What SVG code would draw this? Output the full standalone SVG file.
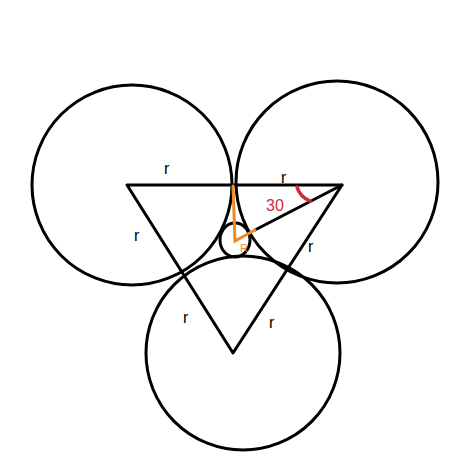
<svg xmlns="http://www.w3.org/2000/svg" width="474" height="466" viewBox="0 0 474 466">
<style>
.c{fill:none;stroke:#000;stroke-width:3}
.l{fill:none;stroke:#000;stroke-width:3;stroke-linecap:round;stroke-linejoin:round}
.o{fill:none;stroke:#f08a24;stroke-width:3;stroke-linecap:round}
.t{font-family:"Liberation Sans",Arial,sans-serif;font-size:16px;fill:#000}
</style>
<rect width="474" height="466" fill="#fff"/>
<g id="circle-left"><circle class="c" cx="132" cy="185" r="100"/></g>
<g id="circle-right"><circle class="c" cx="337" cy="182" r="101"/></g>
<g id="circle-bottom"><circle class="c" cx="243" cy="353" r="97"/></g>
<g id="circle-small"><ellipse class="c" cx="235" cy="240" rx="15" ry="17"/></g>
<g id="connectors">
<polyline class="l" points="127,185 342,185 233,353 127,185"/>
<line class="l" x1="255" y1="230" x2="342" y2="185"/>
<polyline class="o" points="233,186 235,241 255,230"/>
<path d="M297 187 Q300 197 310 201" fill="none" stroke="#d02a3a" stroke-width="3.5" stroke-linecap="round"/>
</g>
<g id="labels">
<text class="t" x="164" y="174">r</text>
<text class="t" x="281" y="183">r</text>
<text class="t" x="134" y="241">r</text>
<text class="t" x="308" y="252">r</text>
<text class="t" x="183" y="323">r</text>
<text class="t" x="269" y="328">r</text>
<text x="266" y="211" font-family="Liberation Sans,Arial,sans-serif" font-size="16" fill="#d02a3a">30</text>
<text x="240" y="252" font-family="Liberation Sans,Arial,sans-serif" font-size="11" fill="#f08a24">R</text>
</g>
</svg>
